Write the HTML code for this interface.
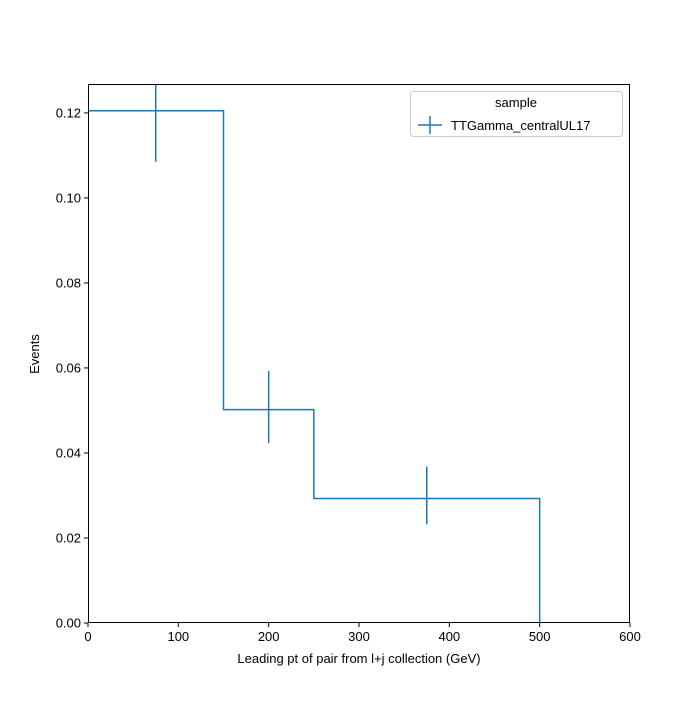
<!DOCTYPE html>
<html><head><meta charset="utf-8"><style>body{margin:0;background:#fff}svg{font-family:"Liberation Sans",sans-serif}</style></head>
<body>
<svg id="chart" width="700" height="700" viewBox="0 0 700 700"></svg>
<script>
const binEdges=[0,150,250,500,600];
const binValues=[0.1205,0.0502,0.0293,0];
const errLow=[0.1085,0.0423,0.0232,0];
const errHigh=[0.1325,0.0593,0.0368,0];
const xTicks=[0,100,200,300,400,500,600];
const yTicks=[0,0.02,0.04,0.06,0.08,0.10,0.12];
const yTickLabels=["0.00","0.02","0.04","0.06","0.08","0.10","0.12"];
const L=88,R=630,T=84,B=623,xMax=600,yMax=0.1268;
const sx=v=>L+v/xMax*(R-L), sy=v=>B-v/yMax*(B-T);
const svg=document.getElementById('chart');const NS='http://www.w3.org/2000/svg';
function mk(t,a,p){const e=document.createElementNS(NS,t);for(const k in a)e.setAttribute(k,a[k]);(p||svg).appendChild(e);return e;}
const defs=mk('defs',{});const cp=mk('clipPath',{id:'c'},defs);mk('rect',{x:L,y:T,width:R-L,height:B-T},cp);
const g=mk('g',{'clip-path':'url(#c)'});


let d='M'+sx(binEdges[0])+','+sy(binValues[0]);
for(let i=0;i<binValues.length;i++){d+=' L'+sx(binEdges[i+1])+','+sy(binValues[i]);if(i+1<binValues.length)d+=' L'+sx(binEdges[i+1])+','+sy(binValues[i+1]);}
const st=mk('path',{d:d,fill:'none',stroke:'#1f77b4','stroke-width':1.5},g);


for(let i=0;i<binValues.length;i++){if(binValues[i]<=0)continue;const cx=sx((binEdges[i]+binEdges[i+1])/2);
const e=mk('line',{x1:cx,x2:cx,y1:sy(errLow[i]),y2:sy(errHigh[i]),stroke:'#1f77b4','stroke-width':1.5},g);

}
const ax=mk('rect',{x:L+0.5,y:T+0.5,width:R-L-1,height:B-T-1,fill:'none',stroke:'#000','stroke-width':1});


xTicks.forEach(v=>{const x=sx(v);mk('line',{x1:x,x2:x,y1:B,y2:B+4,stroke:'#000'});const t=mk('text',{x:x,y:B+18,'text-anchor':'middle','font-size':13});t.textContent=v;

});
yTicks.forEach((v,i)=>{const y=sy(v);mk('line',{x1:L-4,x2:L,y1:y,y2:y,stroke:'#000'});const t=mk('text',{x:L-7,y:y+4.5,'text-anchor':'end','font-size':13});t.textContent=yTickLabels[i];

});
</script>
<svg width="700" height="700" style="position:absolute;left:0;top:0">
<text x="359" y="663" text-anchor="middle" font-size="13">Leading pt of pair from l+j collection (GeV)</text>
<text transform="translate(39,354) rotate(-90)" text-anchor="middle" font-size="13">Events</text>
<g>
<rect x="410.5" y="91.5" width="212" height="45" rx="3" fill="#fff" fill-opacity="0.8" stroke="#ccc"/>
<text x="516" y="107" text-anchor="middle" font-size="13">sample</text>
<line x1="418" x2="442" y1="125" y2="125" stroke="#1f77b4" stroke-width="1.5"/>
<line x1="430" x2="430" y1="116" y2="134" stroke="#1f77b4" stroke-width="1.5"/>
<text x="451" y="130" font-size="13">TTGamma_centralUL17</text>
</g>
</svg>
</body></html>
